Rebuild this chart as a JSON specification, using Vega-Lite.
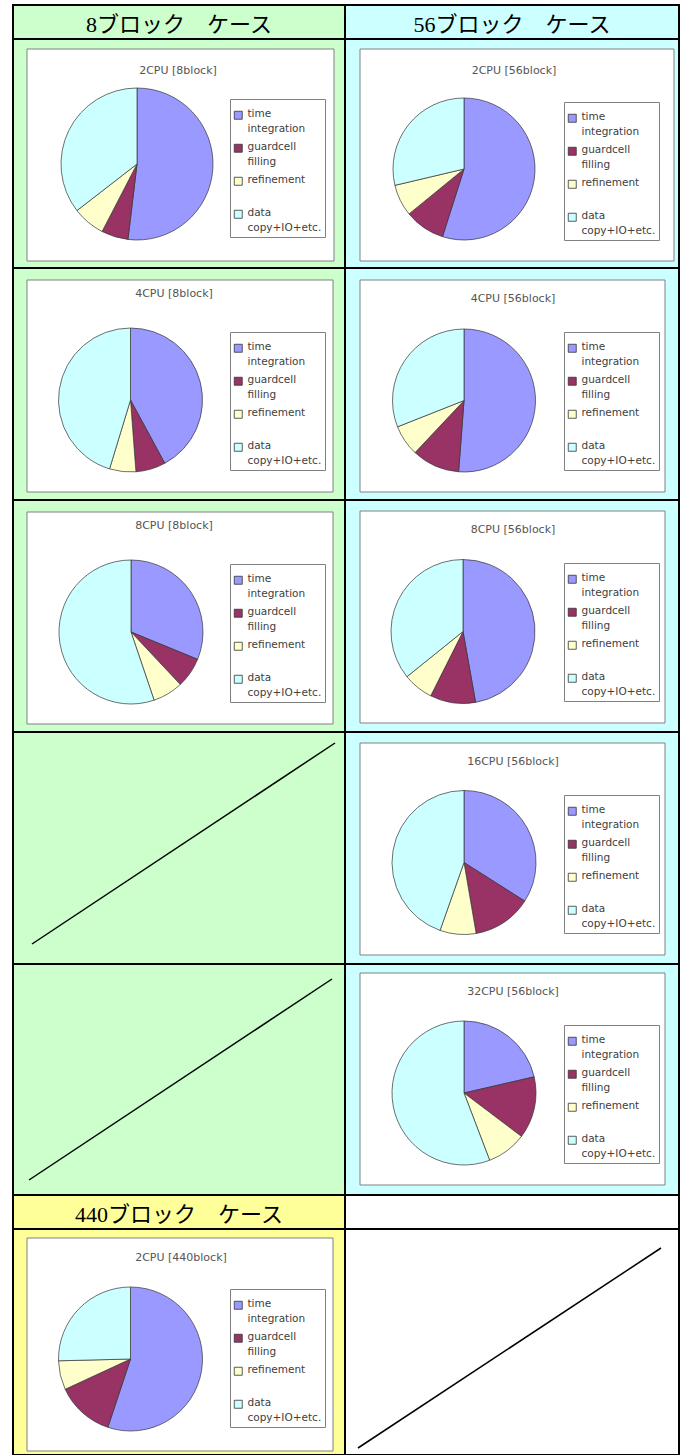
{
  "$schema": "https://vega.github.io/schema/vega-lite/v6.json",
  "padding": {"left": 12, "top": 4, "right": 0, "bottom": 0},
  "background": "white",
  "columns": 2,
  "spacing": 0,
  "bounds": "flush",
  "align": "each",
  "resolve": {"scale": {"x": "independent", "y": "independent", "theta": "independent", "color": "independent"}, "legend": {"color": "independent"}},
  "config": {
    "font": "DejaVu Sans",
    "view": {"stroke": "black", "strokeWidth": 2},
    "legend": {"labelFont": "DejaVu Sans", "labelFontSize": 10.5, "labelColor": "#404040", "symbolType": "square", "symbolSize": 64, "symbolStrokeColor": "#333333", "symbolStrokeWidth": 0.8, "padding": 3, "rowPadding": 7, "strokeColor": "#808080", "fillColor": "white", "labelBaseline": "top", "labelOffset": 4, "titleFontSize": 5, "titlePadding": 3},
    "style": {"guide-label": {"lineHeight": 15, "dy": -6}}
  },
  "datasets": {
    "pies": [
      {"chart": "2CPU [8block]", "part": "time integration", "k": 1, "share": 51.9},
      {"chart": "2CPU [8block]", "part": "guardcell filling", "k": 2, "share": 5.7},
      {"chart": "2CPU [8block]", "part": "refinement", "k": 3, "share": 6.9},
      {"chart": "2CPU [8block]", "part": "data copy+IO+etc.", "k": 4, "share": 35.5},
      {"chart": "2CPU [56block]", "part": "time integration", "k": 1, "share": 54.9},
      {"chart": "2CPU [56block]", "part": "guardcell filling", "k": 2, "share": 9.2},
      {"chart": "2CPU [56block]", "part": "refinement", "k": 3, "share": 7.2},
      {"chart": "2CPU [56block]", "part": "data copy+IO+etc.", "k": 4, "share": 28.7},
      {"chart": "4CPU [8block]", "part": "time integration", "k": 1, "share": 42.1},
      {"chart": "4CPU [8block]", "part": "guardcell filling", "k": 2, "share": 6.7},
      {"chart": "4CPU [8block]", "part": "refinement", "k": 3, "share": 5.9},
      {"chart": "4CPU [8block]", "part": "data copy+IO+etc.", "k": 4, "share": 45.3},
      {"chart": "4CPU [56block]", "part": "time integration", "k": 1, "share": 51.2},
      {"chart": "4CPU [56block]", "part": "guardcell filling", "k": 2, "share": 10.8},
      {"chart": "4CPU [56block]", "part": "refinement", "k": 3, "share": 7.0},
      {"chart": "4CPU [56block]", "part": "data copy+IO+etc.", "k": 4, "share": 31.0},
      {"chart": "8CPU [8block]", "part": "time integration", "k": 1, "share": 31.2},
      {"chart": "8CPU [8block]", "part": "guardcell filling", "k": 2, "share": 6.8},
      {"chart": "8CPU [8block]", "part": "refinement", "k": 3, "share": 6.8},
      {"chart": "8CPU [8block]", "part": "data copy+IO+etc.", "k": 4, "share": 55.2},
      {"chart": "8CPU [56block]", "part": "time integration", "k": 1, "share": 47.2},
      {"chart": "8CPU [56block]", "part": "guardcell filling", "k": 2, "share": 10.2},
      {"chart": "8CPU [56block]", "part": "refinement", "k": 3, "share": 6.8},
      {"chart": "8CPU [56block]", "part": "data copy+IO+etc.", "k": 4, "share": 35.8},
      {"chart": "16CPU [56block]", "part": "time integration", "k": 1, "share": 34.0},
      {"chart": "16CPU [56block]", "part": "guardcell filling", "k": 2, "share": 13.3},
      {"chart": "16CPU [56block]", "part": "refinement", "k": 3, "share": 8.1},
      {"chart": "16CPU [56block]", "part": "data copy+IO+etc.", "k": 4, "share": 44.6},
      {"chart": "32CPU [56block]", "part": "time integration", "k": 1, "share": 21.4},
      {"chart": "32CPU [56block]", "part": "guardcell filling", "k": 2, "share": 13.9},
      {"chart": "32CPU [56block]", "part": "refinement", "k": 3, "share": 8.9},
      {"chart": "32CPU [56block]", "part": "data copy+IO+etc.", "k": 4, "share": 55.8},
      {"chart": "2CPU [440block]", "part": "time integration", "k": 1, "share": 55.1},
      {"chart": "2CPU [440block]", "part": "guardcell filling", "k": 2, "share": 13.0},
      {"chart": "2CPU [440block]", "part": "refinement", "k": 3, "share": 6.5},
      {"chart": "2CPU [440block]", "part": "data copy+IO+etc.", "k": 4, "share": 25.4}
    ]
  },
  "concat": [
    {"width": 332, "height": 34, "view": {"fill": "#CCFFCC", "stroke": "black", "strokeWidth": 2}, "data": {"values": [{"heading": "8ブロック　ケース"}]}, "mark": {"type": "text", "font": "Liberation Serif, Noto Sans CJK JP", "fontSize": 22, "color": "black", "dy": 3}, "encoding": {"text": {"field": "heading"}}},
    {"width": 334, "height": 34, "view": {"fill": "#CCFFFF", "stroke": "black", "strokeWidth": 2}, "data": {"values": [{"heading": "56ブロック　ケース"}]}, "mark": {"type": "text", "font": "Liberation Serif, Noto Sans CJK JP", "fontSize": 22, "color": "black", "dy": 3}, "encoding": {"text": {"field": "heading"}}},

    {"width": 332, "height": 229, "view": {"fill": "#CCFFCC", "stroke": "black", "strokeWidth": 2}, "layer": [
      {"data": {"values": [{"area": "chart"}]}, "mark": {"type": "rect", "fill": "white", "stroke": "#808080", "strokeWidth": 1},
       "encoding": {"x": {"datum": 14, "type": "quantitative", "scale": {"domain": [0, 332], "nice": false, "zero": false}, "axis": null}, "x2": {"datum": 321}, "y": {"datum": 10, "type": "quantitative", "scale": {"domain": [0, 229], "nice": false, "zero": false, "reverse": true}, "axis": null}, "y2": {"datum": 222}}},
      {"data": {"values": [{"chart": "2CPU [8block]"}]}, "mark": {"type": "text", "fontSize": 11, "color": "#555555"},
       "encoding": {"text": {"field": "chart"}, "x": {"datum": 165, "type": "quantitative", "axis": null}, "y": {"datum": 32, "type": "quantitative", "axis": null}}},
      {"data": {"name": "pies"}, "transform": [{"filter": "datum.chart == '2CPU [8block]'"}], "mark": {"type": "arc", "radius": 76, "stroke": "#333333", "strokeWidth": 0.7},
       "encoding": {"theta": {"field": "share", "type": "quantitative", "stack": true}, "order": {"field": "k", "type": "quantitative"},
         "color": {"field": "part", "type": "nominal", "scale": {"domain": ["time integration", "guardcell filling", "refinement", "data copy+IO+etc."], "range": ["#9999FF", "#993366", "#FFFFCC", "#CCFFFF"]}, "legend": {"title": " ", "orient": "none", "legendX": 217, "legendY": 60, "labelExpr": "datum.label == 'time integration' ? ['time', 'integration'] : datum.label == 'guardcell filling' ? ['guardcell', 'filling'] : datum.label == 'refinement' ? ['refinement', ' '] : ['data', 'copy+IO+etc.']"}},
         "x": {"datum": 124, "type": "quantitative", "axis": null}, "y": {"datum": 125, "type": "quantitative", "axis": null}}}
    ]},
    {"width": 334, "height": 229, "view": {"fill": "#CCFFFF", "stroke": "black", "strokeWidth": 2}, "layer": [
      {"data": {"values": [{"area": "chart"}]}, "mark": {"type": "rect", "fill": "white", "stroke": "#808080", "strokeWidth": 1},
       "encoding": {"x": {"datum": 15, "type": "quantitative", "scale": {"domain": [0, 334], "nice": false, "zero": false}, "axis": null}, "x2": {"datum": 329}, "y": {"datum": 10, "type": "quantitative", "scale": {"domain": [0, 229], "nice": false, "zero": false, "reverse": true}, "axis": null}, "y2": {"datum": 222}}},
      {"data": {"values": [{"chart": "2CPU [56block]"}]}, "mark": {"type": "text", "fontSize": 11, "color": "#555555"},
       "encoding": {"text": {"field": "chart"}, "x": {"datum": 169, "type": "quantitative", "axis": null}, "y": {"datum": 32, "type": "quantitative", "axis": null}}},
      {"data": {"name": "pies"}, "transform": [{"filter": "datum.chart == '2CPU [56block]'"}], "mark": {"type": "arc", "radius": 71, "stroke": "#333333", "strokeWidth": 0.7},
       "encoding": {"theta": {"field": "share", "type": "quantitative", "stack": true}, "order": {"field": "k", "type": "quantitative"},
         "color": {"field": "part", "type": "nominal", "scale": {"domain": ["time integration", "guardcell filling", "refinement", "data copy+IO+etc."], "range": ["#9999FF", "#993366", "#FFFFCC", "#CCFFFF"]}, "legend": {"title": " ", "orient": "none", "legendX": 219, "legendY": 63, "labelExpr": "datum.label == 'time integration' ? ['time', 'integration'] : datum.label == 'guardcell filling' ? ['guardcell', 'filling'] : datum.label == 'refinement' ? ['refinement', ' '] : ['data', 'copy+IO+etc.']"}},
         "x": {"datum": 119, "type": "quantitative", "axis": null}, "y": {"datum": 130, "type": "quantitative", "axis": null}}}
    ]},

    {"width": 332, "height": 232, "view": {"fill": "#CCFFCC", "stroke": "black", "strokeWidth": 2}, "layer": [
      {"data": {"values": [{"area": "chart"}]}, "mark": {"type": "rect", "fill": "white", "stroke": "#808080", "strokeWidth": 1},
       "encoding": {"x": {"datum": 14, "type": "quantitative", "scale": {"domain": [0, 332], "nice": false, "zero": false}, "axis": null}, "x2": {"datum": 320}, "y": {"datum": 12, "type": "quantitative", "scale": {"domain": [0, 232], "nice": false, "zero": false, "reverse": true}, "axis": null}, "y2": {"datum": 224}}},
      {"data": {"values": [{"chart": "4CPU [8block]"}]}, "mark": {"type": "text", "fontSize": 11, "color": "#555555"},
       "encoding": {"text": {"field": "chart"}, "x": {"datum": 161, "type": "quantitative", "axis": null}, "y": {"datum": 26, "type": "quantitative", "axis": null}}},
      {"data": {"name": "pies"}, "transform": [{"filter": "datum.chart == '4CPU [8block]'"}], "mark": {"type": "arc", "radius": 72, "stroke": "#333333", "strokeWidth": 0.7},
       "encoding": {"theta": {"field": "share", "type": "quantitative", "stack": true}, "order": {"field": "k", "type": "quantitative"},
         "color": {"field": "part", "type": "nominal", "scale": {"domain": ["time integration", "guardcell filling", "refinement", "data copy+IO+etc."], "range": ["#9999FF", "#993366", "#FFFFCC", "#CCFFFF"]}, "legend": {"title": " ", "orient": "none", "legendX": 217, "legendY": 64, "labelExpr": "datum.label == 'time integration' ? ['time', 'integration'] : datum.label == 'guardcell filling' ? ['guardcell', 'filling'] : datum.label == 'refinement' ? ['refinement', ' '] : ['data', 'copy+IO+etc.']"}},
         "x": {"datum": 117.5, "type": "quantitative", "axis": null}, "y": {"datum": 132, "type": "quantitative", "axis": null}}}
    ]},
    {"width": 334, "height": 232, "view": {"fill": "#CCFFFF", "stroke": "black", "strokeWidth": 2}, "layer": [
      {"data": {"values": [{"area": "chart"}]}, "mark": {"type": "rect", "fill": "white", "stroke": "#808080", "strokeWidth": 1},
       "encoding": {"x": {"datum": 15, "type": "quantitative", "scale": {"domain": [0, 334], "nice": false, "zero": false}, "axis": null}, "x2": {"datum": 320}, "y": {"datum": 12, "type": "quantitative", "scale": {"domain": [0, 232], "nice": false, "zero": false, "reverse": true}, "axis": null}, "y2": {"datum": 224}}},
      {"data": {"values": [{"chart": "4CPU [56block]"}]}, "mark": {"type": "text", "fontSize": 11, "color": "#555555"},
       "encoding": {"text": {"field": "chart"}, "x": {"datum": 168, "type": "quantitative", "axis": null}, "y": {"datum": 31, "type": "quantitative", "axis": null}}},
      {"data": {"name": "pies"}, "transform": [{"filter": "datum.chart == '4CPU [56block]'"}], "mark": {"type": "arc", "radius": 71.5, "stroke": "#333333", "strokeWidth": 0.7},
       "encoding": {"theta": {"field": "share", "type": "quantitative", "stack": true}, "order": {"field": "k", "type": "quantitative"},
         "color": {"field": "part", "type": "nominal", "scale": {"domain": ["time integration", "guardcell filling", "refinement", "data copy+IO+etc."], "range": ["#9999FF", "#993366", "#FFFFCC", "#CCFFFF"]}, "legend": {"title": " ", "orient": "none", "legendX": 219, "legendY": 64, "labelExpr": "datum.label == 'time integration' ? ['time', 'integration'] : datum.label == 'guardcell filling' ? ['guardcell', 'filling'] : datum.label == 'refinement' ? ['refinement', ' '] : ['data', 'copy+IO+etc.']"}},
         "x": {"datum": 119, "type": "quantitative", "axis": null}, "y": {"datum": 132.5, "type": "quantitative", "axis": null}}}
    ]},

    {"width": 332, "height": 232, "view": {"fill": "#CCFFCC", "stroke": "black", "strokeWidth": 2}, "layer": [
      {"data": {"values": [{"area": "chart"}]}, "mark": {"type": "rect", "fill": "white", "stroke": "#808080", "strokeWidth": 1},
       "encoding": {"x": {"datum": 14, "type": "quantitative", "scale": {"domain": [0, 332], "nice": false, "zero": false}, "axis": null}, "x2": {"datum": 320}, "y": {"datum": 12, "type": "quantitative", "scale": {"domain": [0, 232], "nice": false, "zero": false, "reverse": true}, "axis": null}, "y2": {"datum": 224}}},
      {"data": {"values": [{"chart": "8CPU [8block]"}]}, "mark": {"type": "text", "fontSize": 11, "color": "#555555"},
       "encoding": {"text": {"field": "chart"}, "x": {"datum": 161, "type": "quantitative", "axis": null}, "y": {"datum": 26, "type": "quantitative", "axis": null}}},
      {"data": {"name": "pies"}, "transform": [{"filter": "datum.chart == '8CPU [8block]'"}], "mark": {"type": "arc", "radius": 72, "stroke": "#333333", "strokeWidth": 0.7},
       "encoding": {"theta": {"field": "share", "type": "quantitative", "stack": true}, "order": {"field": "k", "type": "quantitative"},
         "color": {"field": "part", "type": "nominal", "scale": {"domain": ["time integration", "guardcell filling", "refinement", "data copy+IO+etc."], "range": ["#9999FF", "#993366", "#FFFFCC", "#CCFFFF"]}, "legend": {"title": " ", "orient": "none", "legendX": 217, "legendY": 64, "labelExpr": "datum.label == 'time integration' ? ['time', 'integration'] : datum.label == 'guardcell filling' ? ['guardcell', 'filling'] : datum.label == 'refinement' ? ['refinement', ' '] : ['data', 'copy+IO+etc.']"}},
         "x": {"datum": 118, "type": "quantitative", "axis": null}, "y": {"datum": 132, "type": "quantitative", "axis": null}}}
    ]},
    {"width": 334, "height": 232, "view": {"fill": "#CCFFFF", "stroke": "black", "strokeWidth": 2}, "layer": [
      {"data": {"values": [{"area": "chart"}]}, "mark": {"type": "rect", "fill": "white", "stroke": "#808080", "strokeWidth": 1},
       "encoding": {"x": {"datum": 15, "type": "quantitative", "scale": {"domain": [0, 334], "nice": false, "zero": false}, "axis": null}, "x2": {"datum": 320}, "y": {"datum": 11, "type": "quantitative", "scale": {"domain": [0, 232], "nice": false, "zero": false, "reverse": true}, "axis": null}, "y2": {"datum": 223}}},
      {"data": {"values": [{"chart": "8CPU [56block]"}]}, "mark": {"type": "text", "fontSize": 11, "color": "#555555"},
       "encoding": {"text": {"field": "chart"}, "x": {"datum": 168, "type": "quantitative", "axis": null}, "y": {"datum": 30, "type": "quantitative", "axis": null}}},
      {"data": {"name": "pies"}, "transform": [{"filter": "datum.chart == '8CPU [56block]'"}], "mark": {"type": "arc", "radius": 72, "stroke": "#333333", "strokeWidth": 0.7},
       "encoding": {"theta": {"field": "share", "type": "quantitative", "stack": true}, "order": {"field": "k", "type": "quantitative"},
         "color": {"field": "part", "type": "nominal", "scale": {"domain": ["time integration", "guardcell filling", "refinement", "data copy+IO+etc."], "range": ["#9999FF", "#993366", "#FFFFCC", "#CCFFFF"]}, "legend": {"title": " ", "orient": "none", "legendX": 219, "legendY": 63, "labelExpr": "datum.label == 'time integration' ? ['time', 'integration'] : datum.label == 'guardcell filling' ? ['guardcell', 'filling'] : datum.label == 'refinement' ? ['refinement', ' '] : ['data', 'copy+IO+etc.']"}},
         "x": {"datum": 118, "type": "quantitative", "axis": null}, "y": {"datum": 131.5, "type": "quantitative", "axis": null}}}
    ]},

    {"width": 332, "height": 232, "view": {"fill": "#CCFFCC", "stroke": "black", "strokeWidth": 2}, "data": {"values": [{"cell": "empty"}]}, "mark": {"type": "rule", "color": "black", "strokeWidth": 1.5},
     "encoding": {"x": {"datum": 19, "type": "quantitative", "scale": {"domain": [0, 332], "nice": false, "zero": false}, "axis": null}, "x2": {"datum": 322}, "y": {"datum": 212, "type": "quantitative", "scale": {"domain": [0, 232], "nice": false, "zero": false, "reverse": true}, "axis": null}, "y2": {"datum": 11}}},
    {"width": 334, "height": 232, "view": {"fill": "#CCFFFF", "stroke": "black", "strokeWidth": 2}, "layer": [
      {"data": {"values": [{"area": "chart"}]}, "mark": {"type": "rect", "fill": "white", "stroke": "#808080", "strokeWidth": 1},
       "encoding": {"x": {"datum": 15, "type": "quantitative", "scale": {"domain": [0, 334], "nice": false, "zero": false}, "axis": null}, "x2": {"datum": 320}, "y": {"datum": 11, "type": "quantitative", "scale": {"domain": [0, 232], "nice": false, "zero": false, "reverse": true}, "axis": null}, "y2": {"datum": 223}}},
      {"data": {"values": [{"chart": "16CPU [56block]"}]}, "mark": {"type": "text", "fontSize": 11, "color": "#555555"},
       "encoding": {"text": {"field": "chart"}, "x": {"datum": 168, "type": "quantitative", "axis": null}, "y": {"datum": 30, "type": "quantitative", "axis": null}}},
      {"data": {"name": "pies"}, "transform": [{"filter": "datum.chart == '16CPU [56block]'"}], "mark": {"type": "arc", "radius": 72, "stroke": "#333333", "strokeWidth": 0.7},
       "encoding": {"theta": {"field": "share", "type": "quantitative", "stack": true}, "order": {"field": "k", "type": "quantitative"},
         "color": {"field": "part", "type": "nominal", "scale": {"domain": ["time integration", "guardcell filling", "refinement", "data copy+IO+etc."], "range": ["#9999FF", "#993366", "#FFFFCC", "#CCFFFF"]}, "legend": {"title": " ", "orient": "none", "legendX": 219, "legendY": 63, "labelExpr": "datum.label == 'time integration' ? ['time', 'integration'] : datum.label == 'guardcell filling' ? ['guardcell', 'filling'] : datum.label == 'refinement' ? ['refinement', ' '] : ['data', 'copy+IO+etc.']"}},
         "x": {"datum": 119, "type": "quantitative", "axis": null}, "y": {"datum": 130.5, "type": "quantitative", "axis": null}}}
    ]},

    {"width": 332, "height": 231, "view": {"fill": "#CCFFCC", "stroke": "black", "strokeWidth": 2}, "data": {"values": [{"cell": "empty"}]}, "mark": {"type": "rule", "color": "black", "strokeWidth": 1.5},
     "encoding": {"x": {"datum": 16, "type": "quantitative", "scale": {"domain": [0, 332], "nice": false, "zero": false}, "axis": null}, "x2": {"datum": 319}, "y": {"datum": 216, "type": "quantitative", "scale": {"domain": [0, 231], "nice": false, "zero": false, "reverse": true}, "axis": null}, "y2": {"datum": 15}}},
    {"width": 334, "height": 231, "view": {"fill": "#CCFFFF", "stroke": "black", "strokeWidth": 2}, "layer": [
      {"data": {"values": [{"area": "chart"}]}, "mark": {"type": "rect", "fill": "white", "stroke": "#808080", "strokeWidth": 1},
       "encoding": {"x": {"datum": 15, "type": "quantitative", "scale": {"domain": [0, 334], "nice": false, "zero": false}, "axis": null}, "x2": {"datum": 320}, "y": {"datum": 9, "type": "quantitative", "scale": {"domain": [0, 231], "nice": false, "zero": false, "reverse": true}, "axis": null}, "y2": {"datum": 221}}},
      {"data": {"values": [{"chart": "32CPU [56block]"}]}, "mark": {"type": "text", "fontSize": 11, "color": "#555555"},
       "encoding": {"text": {"field": "chart"}, "x": {"datum": 168, "type": "quantitative", "axis": null}, "y": {"datum": 28, "type": "quantitative", "axis": null}}},
      {"data": {"name": "pies"}, "transform": [{"filter": "datum.chart == '32CPU [56block]'"}], "mark": {"type": "arc", "radius": 72, "stroke": "#333333", "strokeWidth": 0.7},
       "encoding": {"theta": {"field": "share", "type": "quantitative", "stack": true}, "order": {"field": "k", "type": "quantitative"},
         "color": {"field": "part", "type": "nominal", "scale": {"domain": ["time integration", "guardcell filling", "refinement", "data copy+IO+etc."], "range": ["#9999FF", "#993366", "#FFFFCC", "#CCFFFF"]}, "legend": {"title": " ", "orient": "none", "legendX": 219, "legendY": 61, "labelExpr": "datum.label == 'time integration' ? ['time', 'integration'] : datum.label == 'guardcell filling' ? ['guardcell', 'filling'] : datum.label == 'refinement' ? ['refinement', ' '] : ['data', 'copy+IO+etc.']"}},
         "x": {"datum": 119, "type": "quantitative", "axis": null}, "y": {"datum": 129, "type": "quantitative", "axis": null}}}
    ]},

    {"width": 332, "height": 34, "view": {"fill": "#FFFF99", "stroke": "black", "strokeWidth": 2}, "data": {"values": [{"heading": "440ブロック　ケース"}]}, "mark": {"type": "text", "font": "Liberation Serif, Noto Sans CJK JP", "fontSize": 22, "color": "black", "dy": 3}, "encoding": {"text": {"field": "heading"}}},
    {"width": 334, "height": 34, "view": {"fill": "white", "stroke": "black", "strokeWidth": 2}, "data": {"values": [{"heading": ""}]}, "mark": {"type": "text", "fontSize": 22, "color": "black"}, "encoding": {"text": {"field": "heading"}}},

    {"width": 332, "height": 226, "view": {"fill": "#FFFF99", "stroke": "black", "strokeWidth": 2}, "layer": [
      {"data": {"values": [{"area": "chart"}]}, "mark": {"type": "rect", "fill": "white", "stroke": "#808080", "strokeWidth": 1},
       "encoding": {"x": {"datum": 14, "type": "quantitative", "scale": {"domain": [0, 332], "nice": false, "zero": false}, "axis": null}, "x2": {"datum": 320}, "y": {"datum": 9, "type": "quantitative", "scale": {"domain": [0, 226], "nice": false, "zero": false, "reverse": true}, "axis": null}, "y2": {"datum": 222}}},
      {"data": {"values": [{"chart": "2CPU [440block]"}]}, "mark": {"type": "text", "fontSize": 11, "color": "#555555"},
       "encoding": {"text": {"field": "chart"}, "x": {"datum": 168, "type": "quantitative", "axis": null}, "y": {"datum": 29, "type": "quantitative", "axis": null}}},
      {"data": {"name": "pies"}, "transform": [{"filter": "datum.chart == '2CPU [440block]'"}], "mark": {"type": "arc", "radius": 72, "stroke": "#333333", "strokeWidth": 0.7},
       "encoding": {"theta": {"field": "share", "type": "quantitative", "stack": true}, "order": {"field": "k", "type": "quantitative"},
         "color": {"field": "part", "type": "nominal", "scale": {"domain": ["time integration", "guardcell filling", "refinement", "data copy+IO+etc."], "range": ["#9999FF", "#993366", "#FFFFCC", "#CCFFFF"]}, "legend": {"title": " ", "orient": "none", "legendX": 217, "legendY": 60, "labelExpr": "datum.label == 'time integration' ? ['time', 'integration'] : datum.label == 'guardcell filling' ? ['guardcell', 'filling'] : datum.label == 'refinement' ? ['refinement', ' '] : ['data', 'copy+IO+etc.']"}},
         "x": {"datum": 117.5, "type": "quantitative", "axis": null}, "y": {"datum": 130, "type": "quantitative", "axis": null}}}
    ]},
    {"width": 334, "height": 226, "view": {"fill": "white", "stroke": "black", "strokeWidth": 2}, "data": {"values": [{"cell": "empty"}]}, "mark": {"type": "rule", "color": "black", "strokeWidth": 1.5},
     "encoding": {"x": {"datum": 13, "type": "quantitative", "scale": {"domain": [0, 334], "nice": false, "zero": false}, "axis": null}, "x2": {"datum": 316}, "y": {"datum": 219, "type": "quantitative", "scale": {"domain": [0, 226], "nice": false, "zero": false, "reverse": true}, "axis": null}, "y2": {"datum": 19}}}
  ]
}
